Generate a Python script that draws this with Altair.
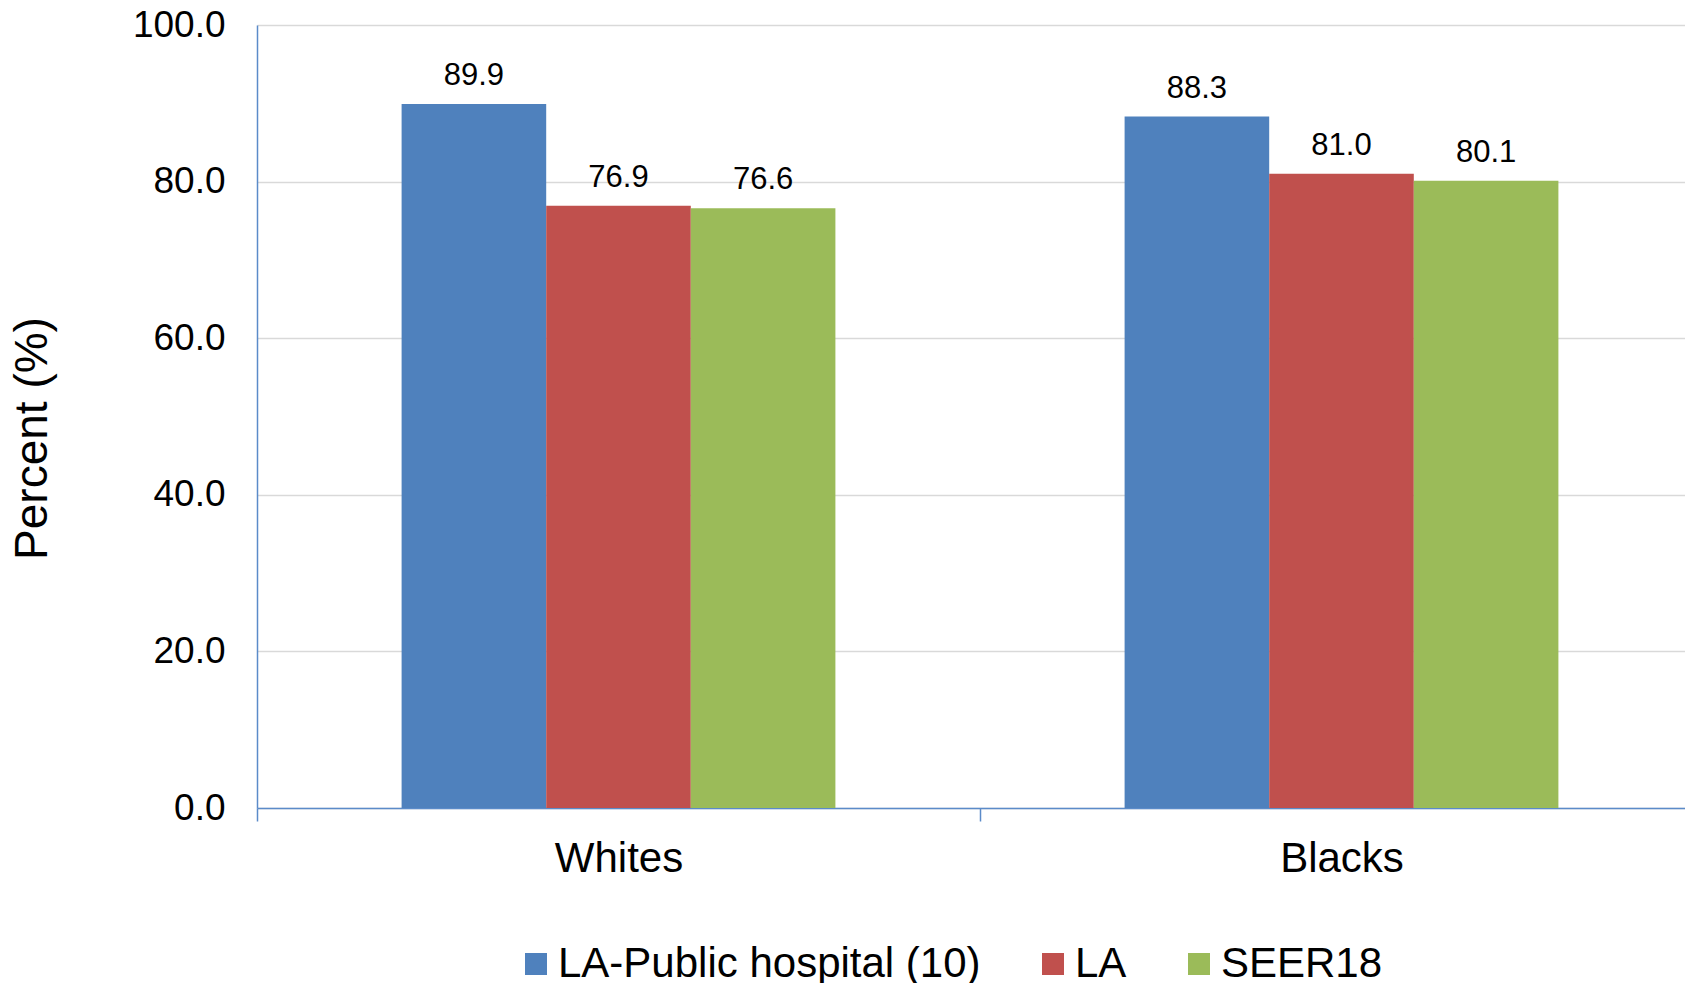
import altair as alt
import pandas as pd

groups = ["Whites", "Blacks"]
series = ["LA-Public hospital (10)", "LA", "SEER18"]
whites = [89.9, 76.9, 76.6]
blacks = [88.3, 81.0, 80.1]
colors = ["#4F81BD", "#C0504D", "#9BBB59"]
y_ticks = [0, 20, 40, 60, 80, 100]

rows = []
for g, vals in zip(groups, [whites, blacks]):
    for s, v in zip(series, vals):
        rows.append({"group": g, "series": s, "value": v})
df = pd.DataFrame(rows)

FONT = "Liberation Sans"
AXIS_BLUE = "#5B8BC9"

x_enc = alt.X(
    "group:N", sort=groups,
    scale=alt.Scale(range=[0, 1446], paddingInner=0, paddingOuter=0),
    axis=alt.Axis(title="", labelAngle=0, labelFontSize=42, labelColor="black", labelFont=FONT,
                  domainColor=AXIS_BLUE, domainWidth=1.5, tickColor=AXIS_BLUE, tickWidth=1.5,
                  tickSize=13, tickBand="extent", labelPadding=50, labelBaseline="alphabetic",
                  grid=False),
)
xoff = alt.XOffset("series:N", sort=series, scale=alt.Scale(paddingInner=0, paddingOuter=1))
y_enc = alt.Y(
    "value:Q",
    scale=alt.Scale(domain=[0, 100], nice=False),
    axis=alt.Axis(values=y_ticks, format=".1f", title="Percent (%)",
                  labelFontSize=37, labelFont=FONT, labelColor="black", labelPadding=32,
                  ticks=False, tickSize=0, domainColor=AXIS_BLUE, domainWidth=1.5,
                  gridColor="#D9D9D9", gridWidth=1.5,
                  titleFont=FONT, titleFontSize=46, titleFontWeight="normal", titleColor="black",
                  titleAngle=270, titleX=-225, titleY=413, titleAlign="center",
                  titleBaseline="middle"),
)
color_enc = alt.Color(
    "series:N", sort=series,
    scale=alt.Scale(domain=series, range=colors),
    legend=alt.Legend(title=None, orient="none", legendX=258, legendY=918,
                      direction="horizontal", columns=3, symbolType="square",
                      symbolSize=484, symbolStrokeWidth=0, symbolOpacity=1,
                      labelFontSize=42, labelFont=FONT, labelColor="black",
                      labelLimit=1000, labelOffset=1, columnPadding=51),
)

bars = alt.Chart(df).mark_bar(opacity=1).encode(x=x_enc, xOffset=xoff, y=y_enc, color=color_enc)
labels = alt.Chart(df).mark_text(fontSize=31, font=FONT, baseline="alphabetic", dy=-19,
                                 color="black").encode(
    x=alt.X("group:N", sort=groups), xOffset=alt.XOffset("series:N", sort=series),
    y="value:Q", text=alt.Text("value:Q", format=".1f"))

chart = alt.layer(bars, labels).properties(
    width=1428, height=783,
    autosize=alt.AutoSizeParams(type="none"),
    padding={"left": 249, "top": 17, "right": 0, "bottom": 175},
).configure_view(stroke="transparent")

chart.save("out.html", embed_options={"renderer": "svg", "actions": False})
